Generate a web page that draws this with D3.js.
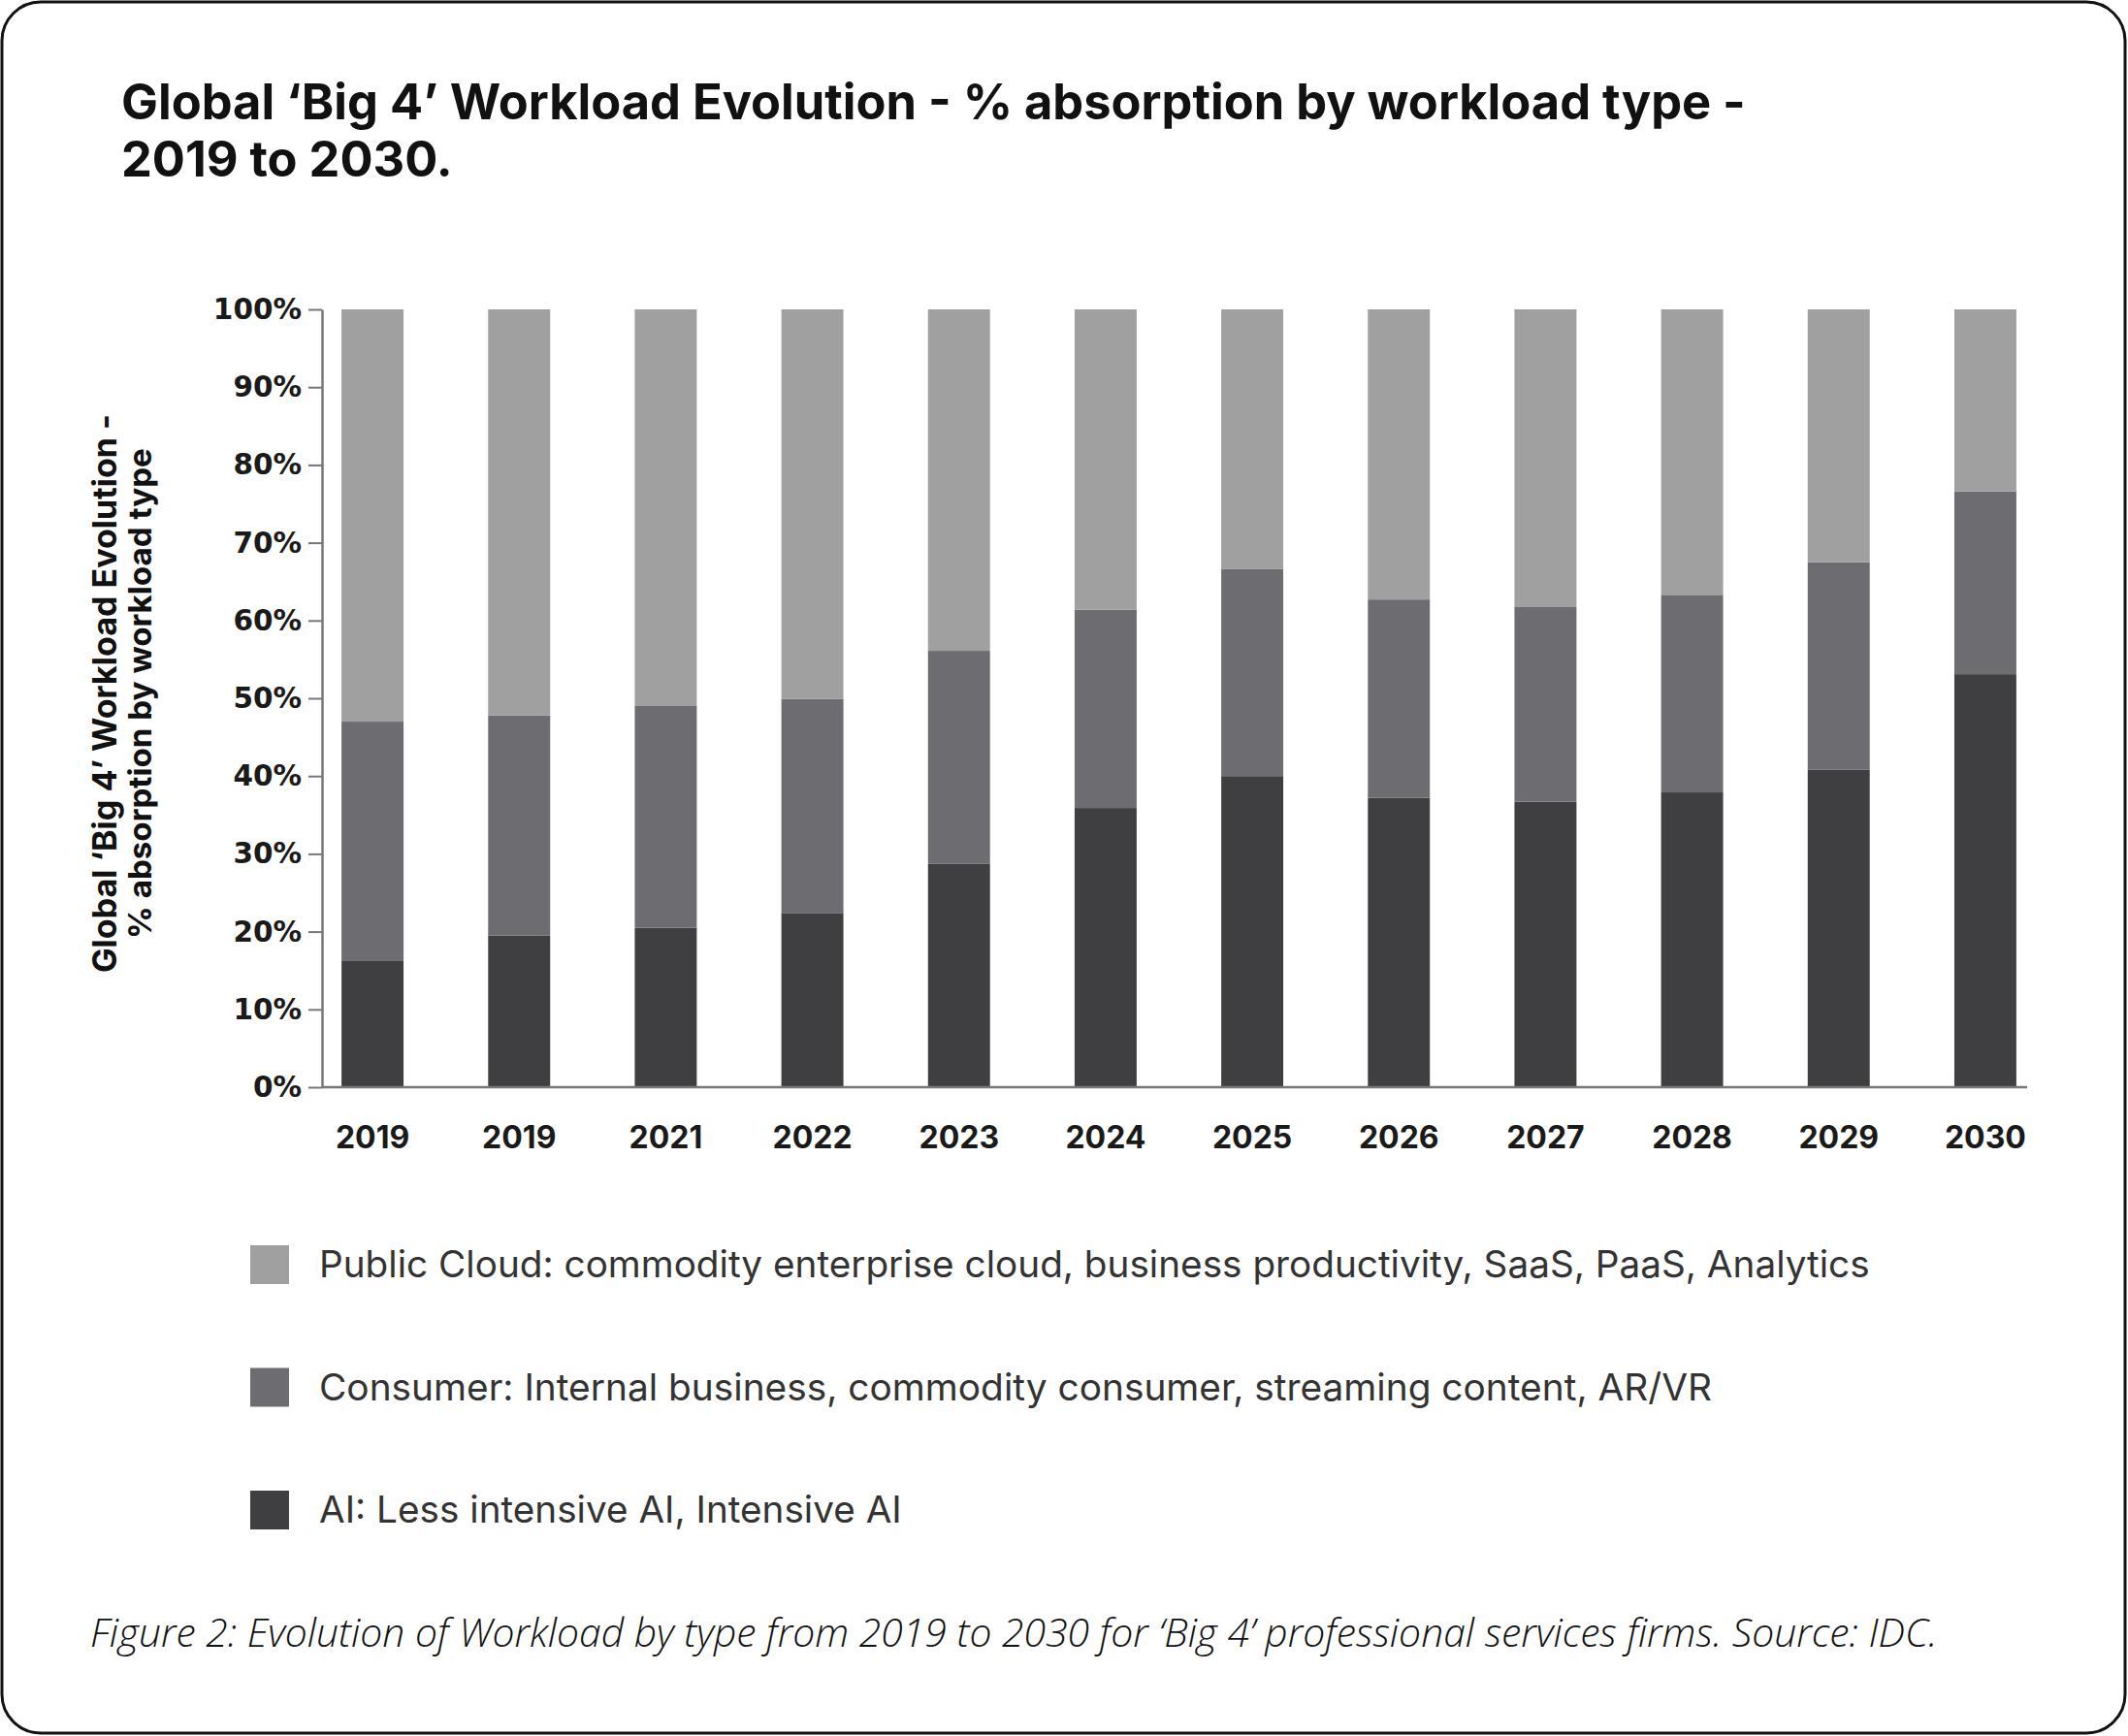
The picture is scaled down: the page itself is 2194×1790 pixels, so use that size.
<!DOCTYPE html>
<html>
<head>
<meta charset="utf-8">
<script src="https://cdn.jsdelivr.net/npm/d3@7"></script>
<style>
  html, body { margin: 0; padding: 0; background: #ffffff; }
  svg { display: block; }
</style>
</head>
<body>
<svg id="chart" width="2194" height="1790"></svg>
<script>
// Years on the category axis (the second bar is labelled 2019 as published)
const categories = ["2019", "2019", "2021", "2022", "2023", "2024", "2025", "2026", "2027", "2028", "2029", "2030"];

// Share of workload (%) per type, bottom to top of each stacked bar
const aiShare          = [16.3, 19.5, 20.5, 22.4, 28.7, 35.9, 40.0, 37.2, 36.7, 37.9, 40.8, 53.1];
const consumerShare    = [30.7, 28.3, 28.5, 27.5, 27.4, 25.5, 26.6, 25.5, 25.1, 25.4, 26.7, 23.5];
const publicCloudShare = [53.0, 52.2, 51.0, 50.1, 43.9, 38.6, 33.4, 37.3, 38.2, 36.7, 32.5, 23.4];

const seriesKeys = ["ai", "consumer", "cloud"];
const seriesColors = { ai: "#3f3f41", consumer: "#6d6c70", cloud: "#a0a0a0" };
const legendLabels = [
  { key: "cloud",    text: "Public Cloud: commodity enterprise cloud, business productivity, SaaS, PaaS, Analytics" },
  { key: "consumer", text: "Consumer: Internal business, commodity consumer, streaming content, AR/VR" },
  { key: "ai",       text: "AI: Less intensive AI, Intensive AI" }
];
const yTicks = [0, 10, 20, 30, 40, 50, 60, 70, 80, 90, 100];

const titleLines = ["Global \u2018Big 4\u2019 Workload Evolution - % absorption by workload type -", "2019 to 2030."];
const yTitleLines = ["Global \u2018Big 4\u2019 Workload Evolution -", "% absorption by workload type"];
const caption = "Figure 2: Evolution of Workload by type from 2019 to 2030 for \u2018Big 4\u2019 professional services firms. Source: IDC.";

const svg = d3.select("#chart");

// Scale a text element's font size so it spans the given width
function fitWidth(sel, width) {
  const w = sel.node().getComputedTextLength();
  const fs = parseFloat(sel.attr("font-size"));
  if (w > 0) sel.attr("font-size", (fs * width / w).toFixed(2));
  return sel;
}

// Card frame
svg.append("rect")
  .attr("x", 2).attr("y", 2)
  .attr("width", 2189).attr("height", 1785)
  .attr("rx", 40).attr("ry", 40)
  .attr("fill", "#ffffff")
  .attr("stroke", "#111111")
  .attr("stroke-width", 3);

// Title
const titleG = svg.append("g").attr("font-family", "Inter, 'Noto Sans', sans-serif").attr("font-weight", 700).attr("fill", "#111");
fitWidth(titleG.append("text").attr("x", 125).attr("y", 123).attr("font-size", 44).text(titleLines[0]), 1675);
const t1size = titleG.select("text").attr("font-size");
titleG.append("text").attr("x", 125).attr("y", 182).attr("font-size", t1size).text(titleLines[1]);

// Data rows for stacking
const rows = categories.map((c, i) => ({ i, ai: aiShare[i], consumer: consumerShare[i], cloud: publicCloudShare[i] }));
const stacked = d3.stack().keys(seriesKeys)(rows);

const x = d3.scaleBand()
  .domain(d3.range(categories.length))
  .range([337, 2094])
  .paddingInner(0.577)
  .paddingOuter(0.1);

const y = d3.scaleLinear().domain([0, 100]).range([1121, 319]);

const axisX0 = 332, axisX1 = 2090;

// Bars
svg.append("g").selectAll("g")
  .data(stacked)
  .join("g")
  .attr("fill", d => seriesColors[d.key])
  .selectAll("rect")
  .data(d => d)
  .join("rect")
  .attr("x", d => x(d.data.i))
  .attr("width", x.bandwidth())
  .attr("y", d => y(d[1]))
  .attr("height", d => y(d[0]) - y(d[1]));

// Y axis
const yAxis = svg.append("g")
  .attr("transform", `translate(${axisX0},0)`)
  .call(d3.axisLeft(y).tickValues(yTicks).tickFormat(d => d + "%").tickSize(14).tickPadding(7).tickSizeOuter(0));
yAxis.select(".domain").attr("stroke", "#777").attr("stroke-width", 2.5);
yAxis.selectAll(".tick line").attr("stroke", "#777").attr("stroke-width", 2);
yAxis.selectAll(".tick text")
  .attr("font-family", "'DejaVu Sans', sans-serif")
  .attr("font-weight", 700)
  .attr("font-size", 29.5)
  .attr("fill", "#1a1a1a");

// X axis
const xAxis = svg.append("g")
  .attr("transform", `translate(0,${y(0)})`)
  .call(d3.axisBottom(x).tickFormat(i => categories[i]).tickSize(0).tickSizeOuter(0));
xAxis.select(".domain").remove();
xAxis.selectAll(".tick text")
  .attr("y", 63).attr("dy", 0)
  .attr("font-family", "Inter, 'Noto Sans', sans-serif")
  .attr("font-weight", 700)
  .attr("font-size", 32)
  .attr("fill", "#1a1a1a");
svg.append("line")
  .attr("x1", axisX0).attr("x2", axisX1)
  .attr("y1", y(0)).attr("y2", y(0))
  .attr("stroke", "#777").attr("stroke-width", 2.5);

// Y axis title (two rotated lines)
const yTitle = svg.append("g")
  .attr("font-family", "Inter, 'Noto Sans', sans-serif")
  .attr("font-weight", 700)
  .attr("fill", "#111")
  .attr("text-anchor", "middle");
fitWidth(yTitle.append("text")
  .attr("transform", "translate(120,715) rotate(-90)")
  .attr("font-size", 28).text(yTitleLines[0]), 576);
fitWidth(yTitle.append("text")
  .attr("transform", "translate(156,715) rotate(-90)")
  .attr("font-size", 28).text(yTitleLines[1]), 506);

// Legend
const legendWidths = [1599, 1437, 601];
const legend = svg.append("g").attr("font-family", "Inter, 'Noto Sans', sans-serif");
legendLabels.forEach((item, k) => {
  const cy = 1304 + k * 126.5;
  legend.append("rect")
    .attr("x", 258).attr("y", cy - 20)
    .attr("width", 40).attr("height", 40)
    .attr("fill", seriesColors[item.key]);
  fitWidth(legend.append("text")
    .attr("x", 329).attr("y", cy + 13)
    .attr("font-size", 38)
    .attr("font-weight", 400)
    .attr("fill", "#333333")
    .text(item.text), legendWidths[k]);
});

// Caption
fitWidth(svg.append("text")
  .attr("x", 93).attr("y", 1698)
  .attr("font-family", "'Open Sans', Lato, sans-serif")
  .attr("font-style", "italic")
  .attr("font-weight", 300)
  .attr("font-size", 38)
  .attr("fill", "#111111")
  .text(caption), 1905);
</script>
</body>
</html>
